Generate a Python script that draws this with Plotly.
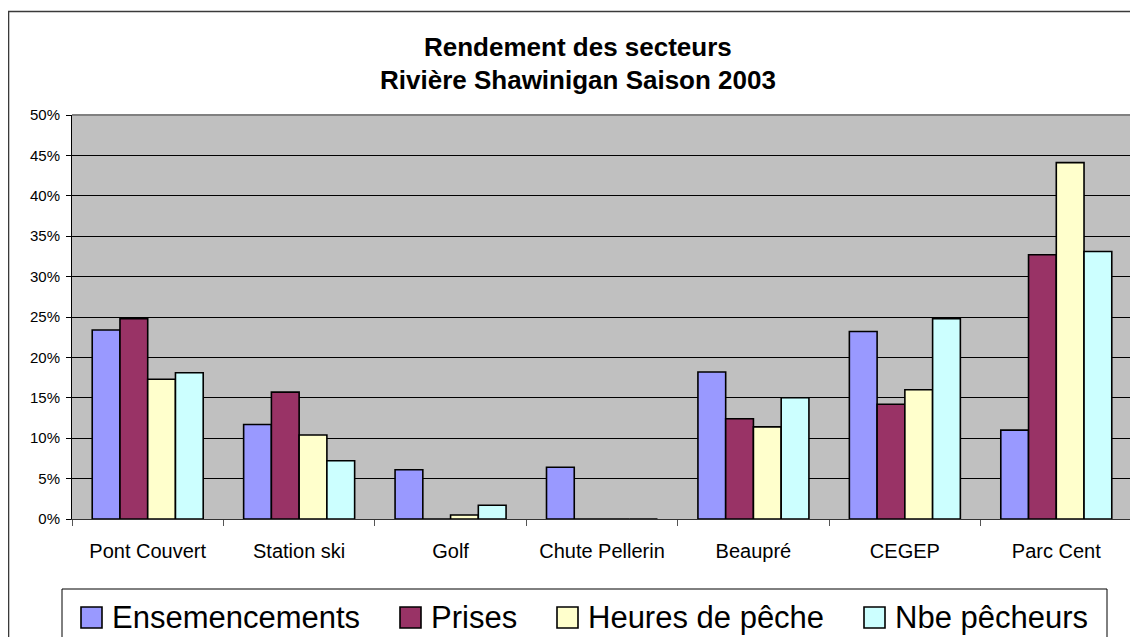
import plotly.graph_objects as go

categories = ["Pont Couvert", "Station ski", "Golf", "Chute Pellerin", "Beaupré", "CEGEP", "Parc Cent"]
series_names = ["Ensemencements", "Prises", "Heures de pêche", "Nbe pêcheurs"]
ensemencements = [0.234, 0.117, 0.061, 0.064, 0.182, 0.232, 0.110]
prises = [0.248, 0.157, 0.0, 0.0, 0.124, 0.142, 0.327]
heures_peche = [0.173, 0.104, 0.005, 0.0, 0.114, 0.160, 0.441]
nbe_pecheurs = [0.181, 0.072, 0.017, 0.0, 0.150, 0.248, 0.331]
y_ticks = [0, 0.05, 0.10, 0.15, 0.20, 0.25, 0.30, 0.35, 0.40, 0.45, 0.50]
title_lines = ["Rendement des secteurs", "Rivière Shawinigan Saison 2003"]

colors = ["#9999FF", "#993366", "#FFFFCC", "#CCFFFF"]
series_values = [ensemencements, prises, heures_peche, nbe_pecheurs]

# The page body has an 8px margin, so the figure is drawn 8px smaller and
# all reference positions below are given in page pixels.
OFF = 8
W, H = 1138 - OFF, 637 - OFF
PLOT_X0, PLOT_X1, PLOT_Y0, PLOT_Y1 = 72, 1132, 115, 519  # page pixels
L, R = PLOT_X0 - OFF, (W + OFF) - PLOT_X1
T, B = PLOT_Y0 - OFF, (H + OFF) - PLOT_Y1
PW, PH = PLOT_X1 - PLOT_X0, PLOT_Y1 - PLOT_Y0
FONT = "Liberation Sans, Arial, sans-serif"


def px(x):
    return (x - PLOT_X0) / PW


def py(y):
    return (PLOT_Y1 - y) / PH


fig = go.Figure()
for name, vals, col in zip(series_names, series_values, colors):
    fig.add_trace(go.Bar(
        x=categories, y=vals, name=name,
        marker=dict(color=col, line=dict(color="black", width=1.6)),
        showlegend=False,
    ))

shapes = []
# outer chart border
shapes.append(dict(type="rect", xref="paper", yref="paper",
                   x0=px(8.5), x1=px(1160), y0=py(660), y1=py(11.5),
                   line=dict(color="#3a3a3a", width=1.6), layer="below"))
# plot area top/right border (gray)
shapes.append(dict(type="line", xref="paper", yref="paper", x0=0, x1=1, y0=1, y1=1,
                   line=dict(color="#808080", width=2)))
shapes.append(dict(type="line", xref="paper", yref="paper", x0=1, x1=1, y0=0, y1=1,
                   line=dict(color="#808080", width=2)))
# legend box
shapes.append(dict(type="rect", xref="paper", yref="paper",
                   x0=px(62), x1=px(1107), y0=py(660), y1=py(589),
                   line=dict(color="black", width=1), fillcolor="white", layer="below"))

legend_square_x = [81, 400, 557, 864]
annotations = []
for name, col, sx in zip(series_names, colors, legend_square_x):
    shapes.append(dict(type="rect", xref="paper", yref="paper",
                       x0=px(sx), x1=px(sx + 21), y0=py(628), y1=py(607),
                       line=dict(color="black", width=1.6), fillcolor=col))
    annotations.append(dict(text=name, xref="paper", yref="paper",
                            x=px(sx + 29), y=py(617), xanchor="left", yanchor="middle",
                            showarrow=False, font=dict(family=FONT, size=31, color="black")))

for line, yc in zip(title_lines, [47, 80]):
    annotations.append(dict(text="<b>%s</b>" % line, xref="paper", yref="paper",
                            x=px(578), y=py(yc), xanchor="center", yanchor="middle",
                            showarrow=False, font=dict(family=FONT, size=26, color="black")))

fig.update_layout(
    width=W, height=H,
    margin=dict(l=L, r=R, t=T, b=B, pad=0),
    paper_bgcolor="white",
    plot_bgcolor="#C0C0C0",
    barmode="group",
    bargap=0.267,
    bargroupgap=0,
    shapes=shapes,
    annotations=annotations,
    font=dict(family=FONT, color="black"),
)
fig.update_xaxes(
    type="category",
    tickson="boundaries",
    ticks="outside", ticklen=6, tickcolor="#555555", tickwidth=1,
    showline=True, linecolor="#333333", linewidth=1,
    showgrid=False,
    ticklabelstandoff=14,
    tickfont=dict(family=FONT, size=20, color="black"),
)
fig.update_yaxes(
    range=[0, 0.5],
    tickvals=y_ticks,
    tickformat=".0%",
    ticks="outside", ticklen=5, tickcolor="black", tickwidth=1,
    showline=True, linecolor="black", linewidth=1,
    showgrid=True, gridcolor="black", gridwidth=1,
    zeroline=False,
    ticklabelstandoff=3,
    tickfont=dict(family=FONT, size=15, color="black"),
)

fig.write_html("out.html")
